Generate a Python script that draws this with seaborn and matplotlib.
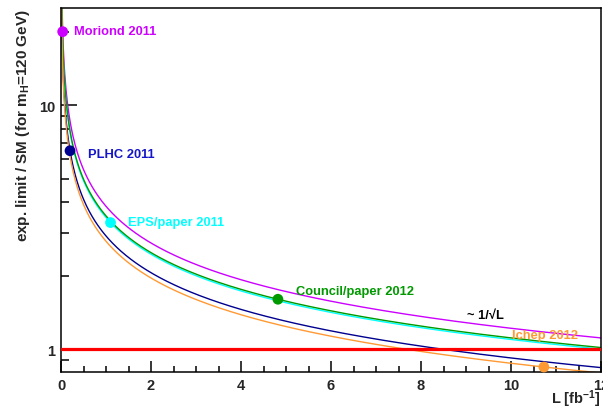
import matplotlib
matplotlib.use("Agg")
import matplotlib.pyplot as plt
from matplotlib.ticker import FixedLocator, MultipleLocator, NullFormatter, FixedFormatter
import numpy as np
import pandas as pd
import seaborn as sns

names = ["Moriond 2011", "PLHC 2011", "EPS/paper 2011", "Council/paper 2012", "Ichep 2012"]
lumi = [0.037, 0.2, 1.1, 4.82, 10.73]
limit = [20.0, 6.5, 3.3, 1.6, 0.844]
colors = ["#cc00ff", "#00008f", "#00ffff", "#009900", "#ff9933"]
text_colors = ["#cc00ff", "#1414c8", "#00ffff", "#009900", "#ff9933"]
label_pos = [(0.29, 20.1), (0.6, 6.3), (1.49, 3.31), (5.22, 1.73), (10.02, 1.14)]
xticks = [0, 2, 4, 6, 8, 10, 12]
yticks = [1, 10]

sns.set_style("white")
plt.rcParams["font.family"] = ["Liberation Sans", "DejaVu Sans"]
plt.rcParams["font.weight"] = "bold"
plt.rcParams["mathtext.fontset"] = "custom"
plt.rcParams["mathtext.rm"] = "Liberation Sans:bold"
plt.rcParams["mathtext.it"] = "Liberation Sans:bold"
plt.rcParams["mathtext.bf"] = "Liberation Sans:bold"

fig = plt.figure(figsize=(6.03, 4.10), dpi=100)
ax = fig.add_axes([0.1012, 0.0902, 0.8955, 0.8878])

# each curve scales as 1/sqrt(L) from its measured point
L = np.linspace(0.004, 12.5, 800)
for n, x0, y0, c in zip(names, lumi, limit, colors):
    df = pd.DataFrame({"L": L, "lim": y0 * np.sqrt(x0 / L)})
    sns.lineplot(data=df, x="L", y="lim", color=c, lw=1.0, ax=ax, zorder=2)

ax.axhline(1.0, color="#ff0000", lw=2.3, zorder=3)

pts = pd.DataFrame({"L": lumi, "lim": limit, "name": names})
sns.scatterplot(data=pts, x="L", y="lim", hue="name", palette=dict(zip(names, colors)),
                s=60, edgecolor="none", legend=False, ax=ax, zorder=5, clip_on=False)

for n, (tx, ty), tc in zip(names, label_pos, text_colors):
    ax.text(tx, ty, n, color=tc, fontsize=9.3, fontweight="bold", va="center", ha="left")
ax.text(9.02, 1.378, "~ 1/\u221aL", color="black", fontsize=9.3,
        fontweight="bold", va="center", ha="left")

ax.set_yscale("log")
ax.set_xlim(0, 12)
ax.set_ylim(0.805, 25)

ax.xaxis.set_major_locator(FixedLocator(xticks))
ax.xaxis.set_major_formatter(FixedFormatter([str(t) for t in xticks]))
ax.xaxis.set_minor_locator(MultipleLocator(0.5))
ax.yaxis.set_major_locator(FixedLocator(yticks))
ax.yaxis.set_major_formatter(FixedFormatter([str(t) for t in yticks]))
ax.yaxis.set_minor_locator(FixedLocator([0.9, 2, 3, 4, 5, 6, 7, 8, 9, 20]))
ax.yaxis.set_minor_formatter(NullFormatter())

ax.tick_params(axis="both", which="both", direction="in", top=False, right=False,
               bottom=True, left=True, labelsize=10.5, width=1.1, color="black")
ax.tick_params(axis="y", which="major", length=11.5, pad=4)
ax.tick_params(axis="y", which="minor", length=6)
ax.tick_params(axis="x", which="major", length=8, pad=4)
ax.tick_params(axis="x", which="minor", length=4.5)
for lab in ax.get_xticklabels() + ax.get_yticklabels():
    lab.set_fontweight("bold")

for s in ax.spines.values():
    s.set_visible(True)
    s.set_color("black")
    s.set_linewidth(1.1)

ax.set_xlabel(r"L [fb$^{-1}$]", fontsize=10.5, fontweight="bold", loc="right", labelpad=-3)
ax.set_ylabel(r"exp. limit / SM (for m$_{\mathrm{H}}$=120 GeV)", fontsize=11,
              fontweight="bold", loc="top", labelpad=5)

fig.savefig("out.png", dpi=100)
